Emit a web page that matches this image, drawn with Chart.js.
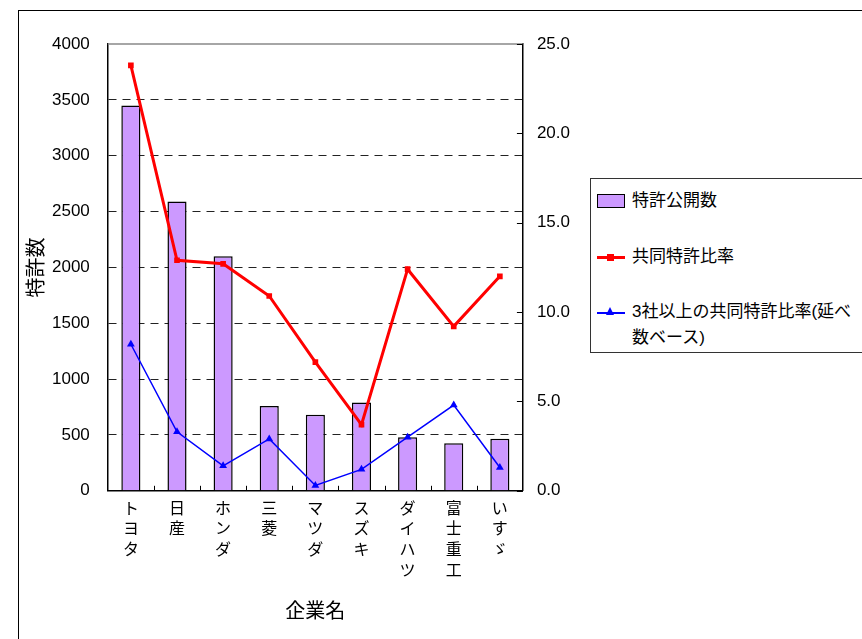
<!DOCTYPE html>
<html>
<head>
<meta charset="utf-8">
<script src="https://cdn.jsdelivr.net/npm/chart.js@4"></script>
<style>
  html, body { margin: 0; padding: 0; background: #fff; overflow: hidden; }
  #wrap { position: relative; width: 862px; height: 639px; }
  #frame { position: absolute; left: 18px; top: 10px; width: 900px; height: 700px; border: 1px solid #000; box-sizing: border-box; }
  #legend { position: absolute; left: 590px; top: 178px; width: 300px; height: 175px; border: 1px solid #333; box-sizing: border-box; background: #fff;
    font-family: 'Liberation Sans', 'Noto Sans CJK JP', sans-serif; font-size: 17px; color: #000; }
  .item { position: absolute; left: 6px; display: flex; align-items: flex-start; }
  .sym { width: 28px; height: 20px; position: relative; margin-right: 7px; flex: none; }
  .txt { line-height: 26px; margin-top: -3px; width: 228px; }
</style>
</head>
<body>
<div id="wrap">
  <div id="frame"></div>
  <canvas id="c" width="862" height="639"></canvas>
  <div id="legend"></div>
</div>
<script>
const companyNames = ["トヨタ", "日産", "ホンダ", "三菱", "マツダ", "スズキ", "ダイハツ", "富士重工", "いすゞ"];
const patents = [3450, 2590, 2100, 760, 680, 790, 480, 425, 465];
const jointRate = [23.8, 12.9, 12.7, 10.9, 7.2, 3.7, 12.4, 9.2, 12.0];
const jointRate3 = [8.2, 3.3, 1.4, 2.9, 0.3, 1.2, 3.0, 4.8, 1.3];
const leftTicks = [0, 500, 1000, 1500, 2000, 2500, 3000, 3500, 4000];
const rightTicks = [0, 5, 10, 15, 20, 25];

const seriesNames = ["特許公開数", "共同特許比率", "3社以上の共同特許比率(延べ数ベース)"];
const FONT = "'Liberation Sans', 'Noto Sans CJK JP', sans-serif";

// inward tick marks + grey top border of the plot
const axisDeco = {
  id: "axisDeco",
  afterDraw(chart) {
    const ctx = chart.ctx;
    const a = chart.chartArea;
    const x = chart.scales.x, y2 = chart.scales.y2;
    ctx.save();
    ctx.strokeStyle = "#888";
    ctx.lineWidth = 1.5;
    ctx.beginPath();
    ctx.moveTo(a.left, a.top);
    ctx.lineTo(a.right, a.top);
    ctx.stroke();
    ctx.strokeStyle = "#000";
    ctx.lineWidth = 1;
    ctx.beginPath();
    rightTicks.forEach(v => {
      const py = Math.round(y2.getPixelForValue(v)) + 0.5;
      ctx.moveTo(a.right - 6, py);
      ctx.lineTo(a.right, py);
    });
    const w = (x.right - x.left) / companyNames.length;
    for (let i = 1; i < companyNames.length; i++) {
      const px = Math.round(x.left + w * i) + 0.5;
      ctx.moveTo(px, a.bottom);
      ctx.lineTo(px, a.bottom - 5);
    }
    ctx.stroke();
    ctx.restore();
  }
};

new Chart(document.getElementById("c").getContext("2d"), {
  type: "bar",
  data: {
    labels: companyNames.map(s => [...s]),
    datasets: [
      {
        type: "line",
        label: seriesNames[1],
        data: jointRate,
        yAxisID: "y2",
        borderColor: "#ff0000",
        backgroundColor: "#ff0000",
        borderWidth: 3,
        pointStyle: "rect",
        pointRadius: 4,
        pointBorderWidth: 0,
        order: 1,
      },
      {
        type: "line",
        label: seriesNames[2],
        data: jointRate3,
        yAxisID: "y2",
        borderColor: "#0000ff",
        backgroundColor: "#0000ff",
        borderWidth: 1.5,
        pointStyle: "triangle",
        pointRadius: 4.5,
        pointBorderWidth: 0,
        order: 2,
      },
      {
        label: seriesNames[0],
        data: patents,
        yAxisID: "y",
        backgroundColor: "#cc99ff",
        borderColor: "#000",
        borderWidth: 1.5,
        barPercentage: 0.45,
        categoryPercentage: 0.92,
        order: 3,
      },
    ],
  },
  options: {
    responsive: false,
    animation: false,
    layout: { padding: { left: 21, top: 44, right: 286, bottom: 15 } },
    plugins: { legend: { display: false }, tooltip: { enabled: false } },
    scales: {
      x: {
        grid: { display: false },
        border: { color: "#000", width: 1.5 },
        ticks: { color: "#000", font: { family: FONT, size: 16, lineHeight: 1.3 }, maxRotation: 0, padding: 0 },
        title: { display: true, text: "企業名", color: "#000", font: { family: FONT, size: 20 }, padding: { top: 18, bottom: 0 } },
      },
      y: {
        position: "left",
        min: 0,
        max: 4000,
        afterBuildTicks: s => { s.ticks = leftTicks.map(v => ({ value: v })); },
        grid: { color: ctx => (ctx.tick && (ctx.tick.value === 0 || ctx.tick.value === 4000) ? "rgba(0,0,0,0)" : "#222"), drawTicks: false, lineWidth: 1 },
        border: { color: "#000", width: 1.5, dash: [8, 6] },
        ticks: { color: "#000", font: { family: FONT, size: 17 }, padding: 18, callback: v => String(v) },
        title: { display: true, text: "特許数", color: "#000", font: { family: FONT, size: 20 }, padding: { top: 4, bottom: -15 } },
      },
      y2: {
        position: "right",
        min: 0,
        max: 25,
        afterBuildTicks: s => { s.ticks = rightTicks.map(v => ({ value: v })); },
        grid: { display: false },
        border: { color: "#000", width: 1.5 },
        ticks: { color: "#000", font: { family: FONT, size: 17 }, padding: 6, callback: v => v.toFixed(1) },
      },
    },
  },
  plugins: [axisDeco],
});

// legend built from the same series
const legend = document.getElementById("legend");
const items = [
  { top: 12, sym: '<div style="position:absolute;left:0;top:3px;width:26px;height:12px;background:#cc99ff;border:1.5px solid #000"></div>' },
  { top: 68, sym: '<div style="position:absolute;left:0;top:9px;width:28px;height:3px;background:#ff0000"></div><div style="position:absolute;left:10px;top:7px;width:7px;height:7px;background:#ff0000"></div>' },
  { top: 123, sym: '<div style="position:absolute;left:0;top:10px;width:28px;height:1.5px;background:#0000ff"></div><div style="position:absolute;left:9px;top:5px;width:0;height:0;border-left:4.5px solid transparent;border-right:4.5px solid transparent;border-bottom:8px solid #0000ff"></div>' },
];
seriesNames.forEach((name, i) => {
  const d = document.createElement("div");
  d.className = "item";
  d.style.top = items[i].top + "px";
  d.innerHTML = '<div class="sym">' + items[i].sym + '</div><div class="txt">' + name + "</div>";
  legend.appendChild(d);
});
</script>
</body>
</html>
